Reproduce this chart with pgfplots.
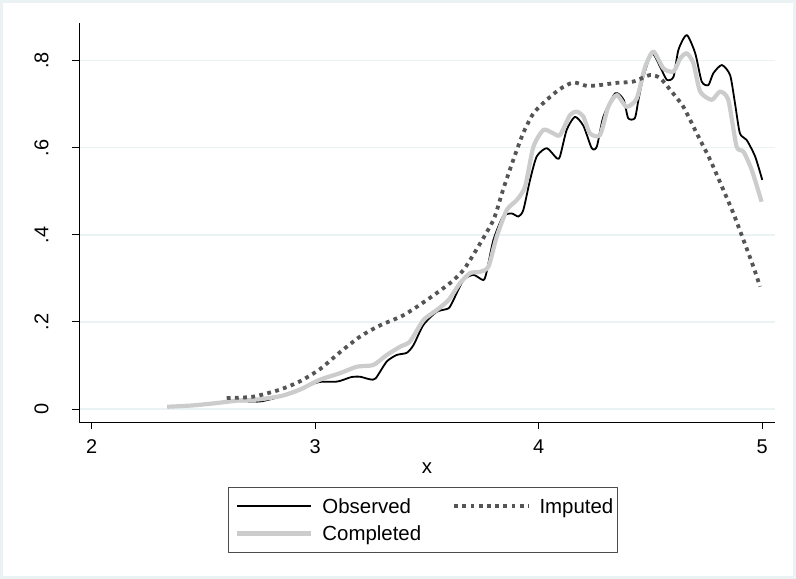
\documentclass[border=0pt]{standalone}
\usepackage{pgfplots}
\pgfplotsset{compat=1.18}
\usepackage{fontspec}
\setmainfont{Liberation Sans}
\definecolor{bgblue}{HTML}{EAF2F3}
\definecolor{gridc}{HTML}{EAF2F3}
\definecolor{compgray}{RGB}{204,204,204}
\definecolor{impgray}{RGB}{85,85,85}
\begin{document}
\begin{tikzpicture}
\useasboundingbox (-79bp,-157bp) rectangle (717bp,422bp);
\fill[bgblue] (-79bp,-157bp) rectangle (717bp,422bp);
\fill[white] (-75.5bp,-153.5bp) rectangle (713.5bp,418.5bp);
\begin{axis}[
 scale only axis, width=696bp, height=399bp,
 xmin=1.943, xmax=5.057, ymin=-0.030, ymax=0.8865,
 axis x line*=bottom, axis y line*=left,
 axis line style={black, line width=0.9bp, -},
 xtick={2,3,4,5}, xticklabels={2,3,4,5},
 ytick={0,0.2,0.4,0.6,0.8}, yticklabels={0,.2,.4,.6,.8},
 tick align=outside, major tick length=7bp,
 tick style={black, line width=0.8bp},
 ymajorgrids, grid style={gridc, line width=1.5bp},
 yticklabel style={rotate=90, anchor=south},
 yticklabel shift=20bp,
 xticklabel shift=7bp,
 tick label style={font=\fontsize{20}{23}\selectfont},
 xlabel={x}, xlabel style={font=\fontsize{20.5}{23}\selectfont, yshift=-2bp},
 legend columns=2,
 legend cell align=left,
 legend image code/.code={\path (-4bp,0bp); \draw[#1] (0bp,0bp) -- (74bp,0bp);},
 legend style={at={(0.4943,-0.1629)}, anchor=north, draw=black!70, line width=0.8bp,
   font=\fontsize{20.5}{23}\selectfont,
   nodes={inner xsep=2bp, inner ysep=0.5bp, text height=19bp, text depth=4bp},
   /tikz/every odd column/.append style={column sep=7.5bp},
   /tikz/every even column/.append style={column sep=25bp},
   row sep=3bp, inner xsep=2.5bp, inner ysep=7bp},
 line join=round,
]
\addplot[black, line width=1.8bp, smooth, tension=0.4, forget plot] coordinates {
(2.34,0.004) (2.45,0.008) (2.55,0.013) (2.65,0.018) (2.75,0.017) (2.82,0.025)
(2.90,0.040) (2.96,0.052) (3.02,0.062) (3.10,0.063) (3.16,0.073) (3.20,0.074)
(3.245,0.068) (3.27,0.070) (3.32,0.109) (3.365,0.124) (3.41,0.129) (3.44,0.147)
(3.484,0.193) (3.543,0.223) (3.596,0.231) (3.618,0.250) (3.663,0.296) (3.708,0.308)
(3.752,0.296) (3.767,0.315) (3.797,0.388) (3.84,0.442) (3.879,0.449) (3.909,0.442)
(3.931,0.457) (3.961,0.526) (3.991,0.580) (4.036,0.599) (4.08,0.576) (4.095,0.580)
(4.125,0.641) (4.162,0.671) (4.20,0.650) (4.237,0.599) (4.26,0.603) (4.289,0.671)
(4.342,0.725) (4.38,0.710) (4.40,0.668) (4.43,0.668) (4.446,0.710) (4.468,0.763)
(4.506,0.817) (4.543,0.786) (4.573,0.756) (4.603,0.763) (4.625,0.825) (4.662,0.859)
(4.70,0.817) (4.729,0.752) (4.759,0.744) (4.781,0.771) (4.819,0.790) (4.856,0.767)
(4.878,0.702) (4.90,0.633) (4.93,0.618) (4.968,0.580) (5.0,0.526)
};
\addplot[compgray, line width=4.2bp, smooth, tension=0.4, forget plot] coordinates {
(2.338,0.005) (2.45,0.008) (2.55,0.013) (2.65,0.019) (2.75,0.022) (2.85,0.030)
(2.93,0.044) (3.02,0.067) (3.11,0.082) (3.186,0.097) (3.26,0.101) (3.32,0.124)
(3.38,0.143) (3.424,0.155) (3.484,0.204) (3.543,0.227) (3.596,0.250) (3.648,0.289)
(3.693,0.312) (3.737,0.315) (3.775,0.327) (3.812,0.396) (3.857,0.457) (3.902,0.480)
(3.939,0.511) (3.976,0.602) (4.021,0.641) (4.065,0.633) (4.095,0.629) (4.14,0.675)
(4.17,0.683) (4.20,0.671) (4.229,0.633) (4.274,0.629) (4.311,0.694) (4.349,0.721)
(4.393,0.694) (4.438,0.713) (4.476,0.786) (4.513,0.821) (4.558,0.782) (4.603,0.775)
(4.633,0.805) (4.662,0.817) (4.692,0.794) (4.722,0.729) (4.774,0.710) (4.811,0.729)
(4.848,0.710) (4.885,0.603) (4.916,0.591) (4.953,0.549) (4.997,0.476)
};
\addplot[impgray, line width=3.8bp, dash pattern=on 3.8bp off 4.4bp, smooth, tension=0.4, forget plot] coordinates {
(2.604,0.025) (2.72,0.028) (2.84,0.044) (2.93,0.063) (3.02,0.091) (3.11,0.130)
(3.20,0.166) (3.29,0.192) (3.394,0.215) (3.499,0.250) (3.603,0.289) (3.663,0.319)
(3.72,0.365) (3.797,0.434) (3.84,0.503) (3.886,0.572) (3.93,0.633) (3.976,0.679)
(4.036,0.710) (4.095,0.735) (4.155,0.750) (4.215,0.742) (4.274,0.744) (4.349,0.749)
(4.423,0.752) (4.498,0.767) (4.543,0.760) (4.588,0.733) (4.647,0.694) (4.707,0.633)
(4.767,0.572) (4.826,0.503) (4.871,0.449) (4.916,0.388) (4.96,0.327) (4.99,0.281)
};
\addlegendimage{black, line width=1.8bp}
\addlegendentry{Observed}
\addlegendimage{impgray, line width=3.8bp, dash pattern=on 3.8bp off 4.4bp}
\addlegendentry{Imputed}
\addlegendimage{compgray, line width=4.2bp}
\addlegendentry{Completed}
\end{axis}
\end{tikzpicture}
\end{document}
